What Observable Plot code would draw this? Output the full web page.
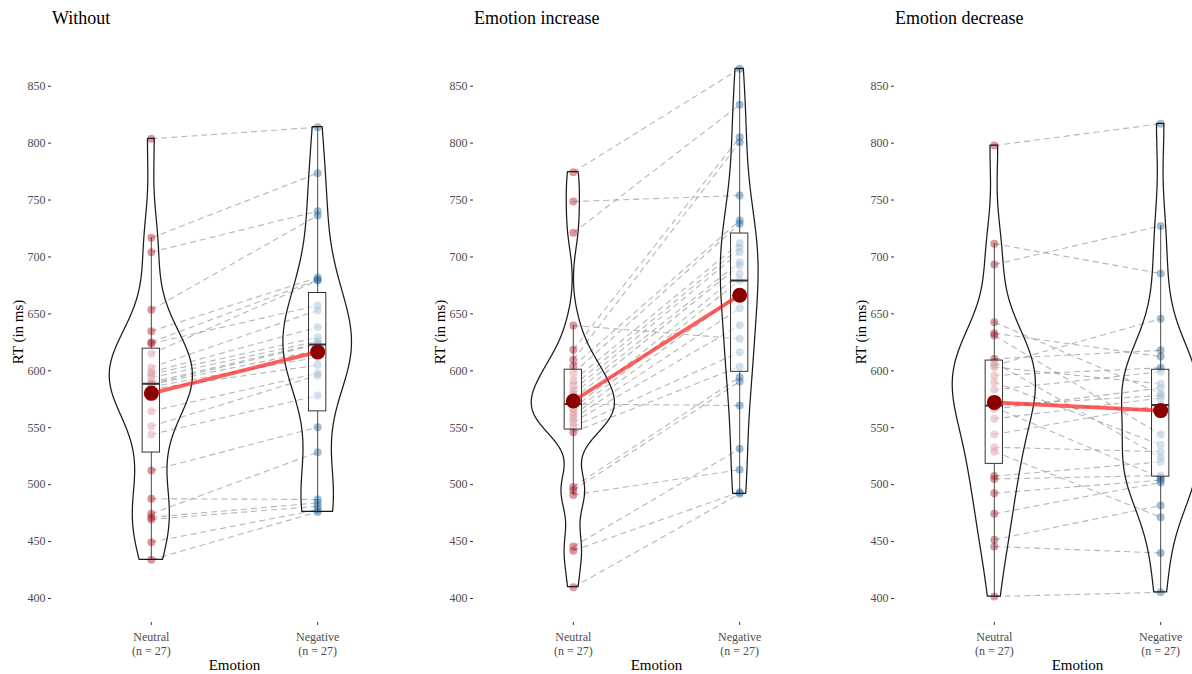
<!DOCTYPE html>
<html><head><meta charset="utf-8">
<script src="https://cdn.jsdelivr.net/npm/d3@7"></script>
<script src="https://cdn.jsdelivr.net/npm/@observablehq/plot@0.6"></script>
<style>
html,body{margin:0;padding:0;background:#fff;overflow:hidden;width:1192px;height:674px;}
#wrap{position:relative;width:1192px;height:674px;overflow:hidden;}
.panel{position:absolute;top:0;width:421px;height:674px;}
.panel svg{position:absolute;left:0;top:0;}
.title{position:absolute;top:8px;left:52px;font-family:"Liberation Serif",serif;font-size:18px;line-height:20px;color:#000;white-space:nowrap;z-index:2;}
</style></head><body><div id="wrap"></div>
<script>
// ---- data (index i of Neutral is paired with index i of Negative) ----
const panelTitles = ["Without", "Emotion increase", "Emotion decrease"];
const conditions = ["Neutral", "Negative"];
const tickLabels = ["Neutral\n(n = 27)", "Negative\n(n = 27)"];
const yTicks = [400, 450, 500, 550, 600, 650, 700, 750, 800, 850];
const axisTitleX = "Emotion";
const axisTitleY = "RT (in ms)";

const withoutNeutral  = [803.8, 716.8, 704.2, 653.6, 634.8, 625.1, 624.0, 614.9, 603.0, 598.8, 597.0, 594.0, 590.0, 588.6, 588.0, 586.0, 584.0, 564.5, 551.3, 544.0, 512.4, 487.6, 474.4, 471.4, 469.5, 449.5, 434.0];
const withoutNegative = [814.0, 773.6, 740.2, 736.4, 682.0, 680.0, 657.4, 679.3, 653.0, 638.3, 629.5, 626.0, 624.0, 623.1, 618.0, 612.0, 605.0, 597.9, 595.9, 578.3, 550.5, 487.0, 528.5, 484.0, 481.0, 478.0, 476.0];

const increaseNeutral  = [774.5, 748.7, 721.2, 639.8, 618.4, 609.7, 604.0, 597.9, 591.5, 587.0, 583.0, 579.8, 575.4, 570.8, 567.0, 563.6, 561.0, 558.0, 554.8, 550.8, 546.0, 498.0, 495.0, 491.0, 445.6, 442.0, 409.9];
const increaseNegative = [865.3, 754.0, 833.7, 628.1, 805.2, 800.8, 732.0, 729.1, 712.1, 708.0, 704.2, 695.4, 692.5, 569.5, 685.2, 679.3, 668.0, 655.0, 640.0, 616.4, 603.8, 594.4, 590.6, 513.1, 531.5, 493.4, 492.0];

const decreaseNeutral  = [797.9, 711.6, 693.4, 642.7, 633.0, 631.0, 610.5, 607.5, 604.6, 603.2, 595.9, 590.0, 583.3, 569.5, 568.0, 566.6, 557.8, 544.0, 532.9, 529.0, 507.5, 505.0, 492.5, 474.4, 451.6, 445.6, 401.7];
const decreaseNegative = [817.0, 685.5, 727.3, 580.0, 612.5, 544.0, 618.0, 524.0, 645.7, 588.6, 602.6, 535.0, 599.2, 578.3, 506.0, 585.0, 576.0, 570.0, 529.0, 471.4, 520.0, 508.0, 504.0, 502.0, 481.7, 440.0, 405.4];

const panelData = [
  [withoutNeutral, withoutNegative],
  [increaseNeutral, increaseNegative],
  [decreaseNeutral, decreaseNegative]
];
const panelLeft = [0, 422, 843];
const groupColors = ["#B2182B", "#2E6DA4"];

// ---- helpers (ggplot-like stats) ----
function kde(vals) {
  const s = d3.sort(vals), n = s.length;
  const sd = d3.deviation(s);
  const iqr = d3.quantileSorted(s, 0.75) - d3.quantileSorted(s, 0.25);
  const bw = 0.9 * Math.min(sd, iqr / 1.34) * Math.pow(n, -0.2);
  const lo = s[0], hi = s[n - 1];
  return d3.range(512).map(i => {
    const y = lo + (hi - lo) * i / 511;
    const d = d3.mean(s, v => Math.exp(-0.5 * ((y - v) / bw) ** 2)) / (bw * Math.sqrt(2 * Math.PI));
    return {y, d};
  });
}
function boxStats(vals, x) {
  const s = d3.sort(vals);
  const q1 = d3.quantileSorted(s, 0.25), q3 = d3.quantileSorted(s, 0.75), med = d3.quantileSorted(s, 0.5);
  const iqr = q3 - q1;
  const lo = d3.min(s.filter(v => v >= q1 - 1.5 * iqr));
  const hi = d3.max(s.filter(v => v <= q3 + 1.5 * iqr));
  return {x, q1, q3, med, lo, hi};
}

const wrap = document.getElementById("wrap");
panelData.forEach((groups, p) => {
  const [neu, neg] = groups;
  const pairs = neu.map((v, i) => ({n: v, g: neg[i]}));
  const dens = groups.map(kde);
  const maxD = d3.max(dens.flat(), d => d.d);
  const violin = dens.flatMap((arr, gi) => arr.map(r => ({
    group: conditions[gi], y: r.y,
    x1: gi + 1 - 0.25 * r.d / maxD, x2: gi + 1 + 0.25 * r.d / maxD
  })));
  const boxes = groups.map((vals, gi) => boxStats(vals, gi + 1));
  const means = groups.map((vals, gi) => ({x: gi + 1, y: d3.mean(vals)}));
  const hw = 0.052;

  const chart = Plot.plot({
    width: 421, height: 674,
    marginLeft: 51, marginRight: 4, marginTop: 41, marginBottom: 52,
    x: {domain: [0.4, 2.6], axis: null},
    y: {domain: [400, 850], range: [598, 85.7], axis: null},
    style: {fontFamily: '"Liberation Serif", serif', fontSize: "12px", color: "#4d4d4d", background: "transparent", overflow: "visible"},
    marks: [
      Plot.link(pairs, {x1: () => 1, x2: () => 2, y1: "n", y2: "g", stroke: "#8f8f8f", strokeOpacity: 0.65, strokeWidth: 1.1, strokeDasharray: "6,4"}),
      Plot.dot(neu, {x: () => 1, y: d => d, r: 4, fill: groupColors[0], fillOpacity: 0.45}),
      Plot.dot(neg, {x: () => 2, y: d => d, r: 4, fill: groupColors[1], fillOpacity: 0.45}),
      Plot.ruleX(boxes, {x: "x", y1: "q3", y2: "hi", stroke: "#333", strokeWidth: 0.9}),
      Plot.ruleX(boxes, {x: "x", y1: "lo", y2: "q1", stroke: "#333", strokeWidth: 0.9}),
      Plot.rect(boxes, {x1: d => d.x - hw, x2: d => d.x + hw, y1: "q1", y2: "q3", fill: "white", fillOpacity: 0.55, stroke: "#333", strokeWidth: 1}),
      Plot.ruleY(boxes, {y: "med", x1: d => d.x - hw, x2: d => d.x + hw, stroke: "#333", strokeWidth: 2}),
      Plot.areaX(violin, {y: "y", x1: "x1", x2: "x2", z: "group", fill: "none", stroke: "#1a1a1a", strokeWidth: 1.25}),
      Plot.line(means, {x: "x", y: "y", stroke: "#ff1a1a", strokeOpacity: 0.7, strokeWidth: 3.8}),
      Plot.dot(means, {x: "x", y: "y", r: 7.5, fill: "#8B0000"}),
      Plot.axisY({ticks: yTicks, tickSize: 3, tickPadding: 3, label: null, stroke: "#333", fontSize: 12}),
      Plot.axisX({ticks: [1, 2], tickFormat: d => tickLabels[d - 1], tickSize: 3, tickPadding: 5, label: null, lineHeight: 1.2, stroke: "#333", fontSize: 12}),
      Plot.text([axisTitleX], {text: d => d, frameAnchor: "bottom", dy: 43, fontSize: 15, fill: "#000", textAnchor: "middle", lineAnchor: "middle"}),
      Plot.text([axisTitleY], {text: d => d, frameAnchor: "left", dx: -33, rotate: -90, fontSize: 15, fill: "#000", textAnchor: "middle", lineAnchor: "middle"})
    ]
  });

  const panel = document.createElement("div");
  panel.className = "panel";
  panel.style.left = panelLeft[p] + "px";
  const t = document.createElement("div");
  t.className = "title";
  t.textContent = panelTitles[p];
  panel.appendChild(chart);
  panel.appendChild(t);
  wrap.appendChild(panel);
});
</script>
</body></html>
